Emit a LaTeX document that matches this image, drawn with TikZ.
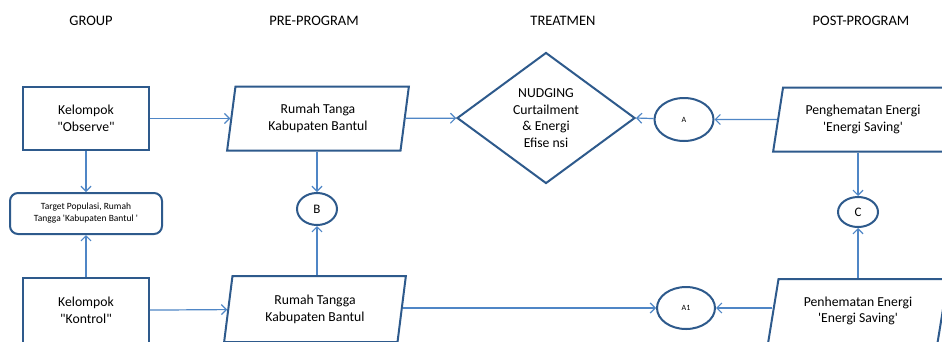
\documentclass[tikz,border=0pt]{standalone}
\usepackage{fontspec}
\setmainfont{Carlito}
\usetikzlibrary{positioning, arrows.meta, shapes.geometric}
\definecolor{flowblue}{RGB}{46, 90, 140}
\definecolor{linkblue}{RGB}{79, 134, 198}
\newcommand{\dq}{\textquotedbl}
\newcommand{\sq}{\textquotesingle}

\begin{document}
\begin{tikzpicture}[x=1pt, y=-1pt,
        block/.style={rectangle, draw=flowblue, line width=2pt, minimum width=126pt, minimum height=63pt, align=center, font=\fontsize{13.7}{16.7}\selectfont},
        slanted/.style={trapezium, trapezium left angle=80, trapezium right angle=100, trapezium stretches=true, draw=flowblue, line width=2pt, minimum width=182pt, minimum height=64pt, inner sep=0pt, align=center, font=\fontsize{13.7}{16.7}\selectfont},
        outcome/.style={slanted, trapezium left angle=76, trapezium right angle=104, minimum width=180pt},
        decision/.style={diamond, draw=flowblue, line width=2pt, minimum width=178pt, minimum height=131pt, inner sep=0pt, align=center, font=\fontsize{13.7}{16.7}\selectfont},
        connector/.style={ellipse, draw=flowblue, line width=2pt, inner sep=0pt},
        heading/.style={font=\fontsize{14.5}{17}\selectfont},
        arrow/.style={-{Straight Barb[length=5pt, width=10pt]}, draw=linkblue, line width=1.2pt}
    ]
        \clip (0,0) rectangle (942,341);
        \fill[white] (0,0) rectangle (942,341);

        % Headings
        \node[heading] (hgroup) at (91,21) {GROUP};
        \node[heading] (hpre) at (314,21) {PRE-PROGRAM};
        \node[heading] (htreat) at (563,21) {TREATMEN};
        \node[heading] (hpost) at (861,21) {POST-PROGRAM};

        % Group
        \node[block] (observe) at (86,118.5) {Kelompok\\ \dq Observe\dq};
        \node[block, rounded corners=8pt, minimum width=152pt, minimum height=41pt, font=\fontsize{9.5}{12}\selectfont] (target) at (86,213.5) {Target Populasi, Rumah\\ Tangga \sq Kabupaten Bantul \sq};
        \node[block, minimum height=65pt] (kontrol) at (86,310.5) {Kelompok\\ \dq Kontrol\dq};

        % Pre-program
        \node[slanted] (rumah1) at (318,118.5) {Rumah Tanga\\ Kabupaten Bantul};
        \node[connector, minimum width=40pt, minimum height=32pt, font=\fontsize{13}{15}\selectfont] (pointb) at (317,209) {B};
        \node[slanted, minimum height=66pt] (rumah2) at (315,309) {Rumah Tangga\\ Kabupaten Bantul};

        % Treatment
        \node[decision] (nudging) at (546,118) {NUDGING\\ Curtailment\\ \& Energi\\ Efise nsi};
        \node[connector, minimum width=59pt, minimum height=43pt, font=\fontsize{8}{10}\selectfont] (pointa) at (684,119.5) {A};
        \node[connector, minimum width=58pt, minimum height=42pt, font=\fontsize{8}{10}\selectfont] (pointa1) at (686,308) {A1};

        % Post-program
        \node[outcome] (hemat1) at (863,119.5) {Penghematan Energi\\ \sq Energi Saving\sq};
        \node[connector, minimum width=40pt, minimum height=30pt, font=\fontsize{13}{15}\selectfont] (pointc) at (858,212) {C};
        \node[outcome] (hemat2) at (858,311) {Penhematan Energi\\ \sq Energi Saving\sq};

        % Arrows
        \draw[arrow] (observe) -- (rumah1);
        \draw[arrow] (rumah1) -- (nudging);
        \draw[arrow] (pointa) -- (nudging.east);
        \draw[arrow] (hemat1) -- (pointa);
        \draw[arrow] (observe) -- (target);
        \draw[arrow] (kontrol) -- (target);
        \draw[arrow] (rumah1.south -| pointb) -- (pointb);
        \draw[arrow] (rumah2.north -| pointb) -- (pointb);
        \draw[arrow] (kontrol) -- (rumah2);
        \draw[arrow] (rumah2.east |- pointa1) -- (pointa1);
        \draw[arrow] (hemat2.west |- pointa1) -- (pointa1);
        \draw[arrow] (hemat1.south -| pointc) -- (pointc);
        \draw[arrow] (hemat2.north -| pointc) -- (pointc);
    \end{tikzpicture}
\end{document}
